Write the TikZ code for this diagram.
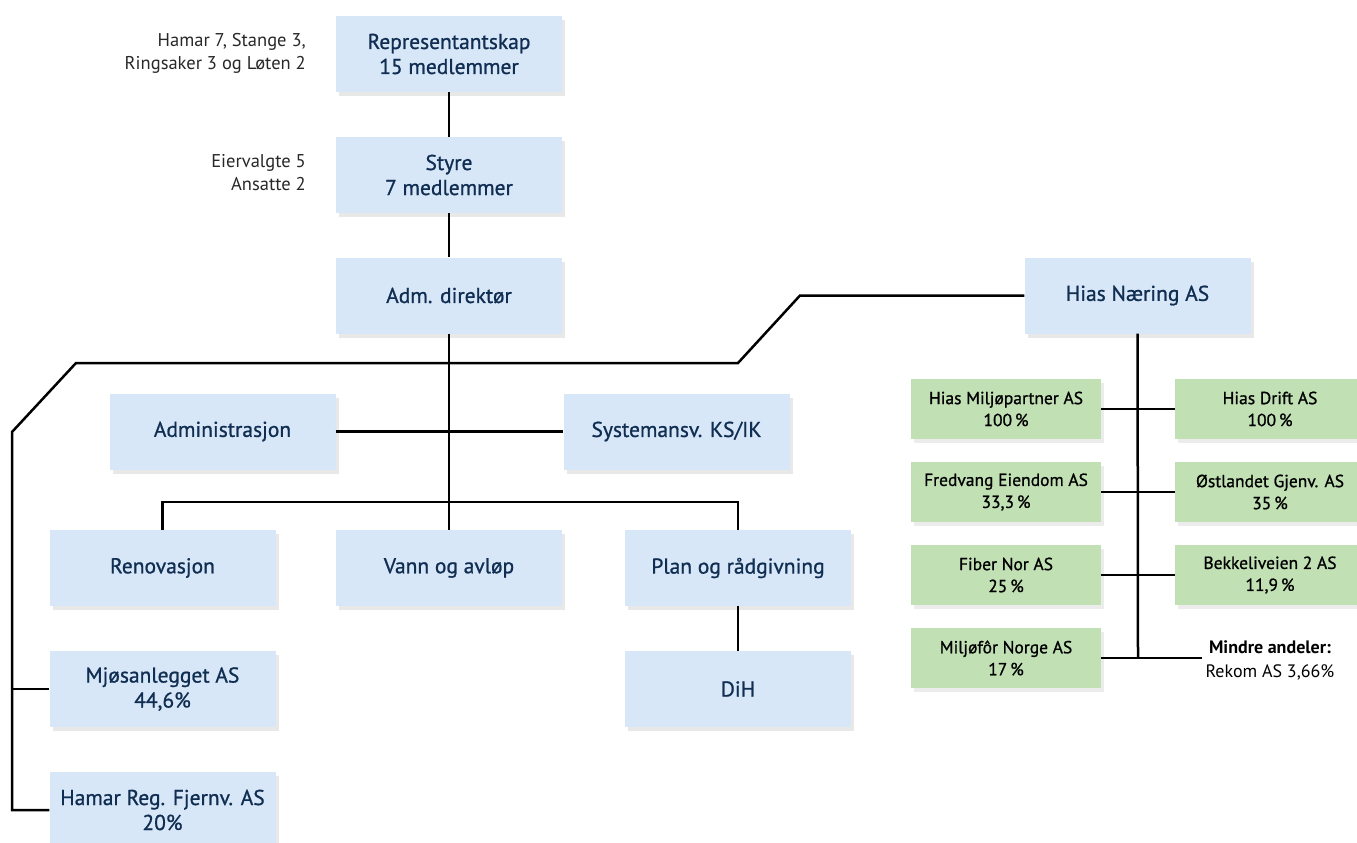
\documentclass[tikz,border=0pt]{standalone}
\usepackage{fontspec}
\setmainfont{PT Sans}
\newfontfamily\boxfont[RawFeature={embolden=0.9}]{PT Sans}
\usetikzlibrary{positioning, shadows}

\definecolor{boxblue}{RGB}{215,231,247}
\definecolor{boxgreen}{RGB}{193,224,180}
\definecolor{navy}{RGB}{16,45,82}
\definecolor{greytext}{RGB}{40,40,40}

\tikzset{
	unit/.style={fill=boxblue, text=navy, minimum width=226pt, minimum height=76pt,
		align=center, inner sep=0pt, font=\boxfont\fontsize{21.5}{25}\selectfont,
		drop shadow={opacity=0.18, shadow xshift=3pt, shadow yshift=-4pt}},
	company/.style={fill=boxgreen, text=black, minimum width=190pt, minimum height=60pt,
		align=center, inner sep=0pt, font=\boxfont\fontsize{17.5}{22}\selectfont,
		drop shadow={opacity=0.15, shadow xshift=3pt, shadow yshift=-4pt}},
	note/.style={text=greytext, align=right, anchor=east, inner sep=0pt,
		font=\fontsize{18.5}{23}\selectfont},
	link/.style={line width=2.5pt, black}
}

\begin{document}
\begin{tikzpicture}[x=1pt, y=-1pt]
	\useasboundingbox (0,0) rectangle (1357,843);
	
	% main line
	\node [unit] (rep) at (449,54) {Representantskap\\15 medlemmer};
	\node [unit] (styre) at (449,175) {Styre\\7 medlemmer};
	\node [unit] (adm) at (449,295.5) {Adm. direktør};
	\node [note] (repnote) at (306,53) {Hamar 7, Stange 3,\\Ringsaker 3 og Løten 2};
	\node [note] (styrenote) at (306,173) {Eiervalgte 5\\Ansatte 2};
	
	\node [unit] (admin) at (222.5,431.5) {Administrasjon};
	\node [unit] (system) at (676.5,431.5) {Systemansv. KS/IK};
	
	\node [unit] (renov) at (162.5,568) {Renovasjon};
	\node [unit] (vann) at (449,568) {Vann og avløp};
	\node [unit] (plan) at (738,568) {Plan og rådgivning};
	\node [unit] (dih) at (738,689) {DiH};
	
	\node [unit] (mjos) at (162.5,689) {Mjøsanlegget AS\\44,6\%};
	\node [unit] (hamar) at (162.5,810) {Hamar Reg. Fjernv. AS\\20\%};
	
	\node [unit] (naering) at (1137.5,295.5) {Hias Næring AS};
	
	\coordinate (B) at (449,502);
	\coordinate (K1) at (800,295.5);
	\coordinate (K2) at (738,363);
	\coordinate (K3) at (76,363);
	\coordinate (K4) at (12,432);
	\coordinate (K5) at (12,689);
	\coordinate (K6) at (12,810);
	
	\draw [link] (rep) -- (styre);
	\draw [link] (styre) -- (adm);
	\draw [link] (adm) -- (vann);
	\draw [link] (admin) -- (system);
	\draw [link] (renov) -- (renov |- B) -| (plan);
	\draw [link] (plan) -- (dih);
	\draw [link] (naering) -- (K1) -- (K2) -- (K3) -- (K4) -- (K6) -- (hamar);
	\draw [link] (K5) -- (mjos);
	
	% Hias Naering subsidiaries
	\coordinate (N) at (1138,658);
	\draw [link] (naering) -- (N);
	\foreach \l/\r [count=\xi] in {{Hias Miljøpartner AS\\100\,\%}/{Hias Drift AS\\100\,\%},
		{Fredvang Eiendom AS\\33,3\,\%}/{Østlandet Gjenv. AS\\35\,\%},
		{Fiber Nor AS\\25\,\%}/{Bekkeliveien 2 AS\\11,9\,\%}}{
		\node [company] (L\xi) at (1006,326+83*\xi) {\l};
		\node [company] (R\xi) at (1270,326+83*\xi) {\r};
		\draw [link] (L\xi) -- (R\xi);}
	\node [company] (L4) at (1006,658) {Miljøfôr Norge AS\\17\,\%};
	\node [align=center, font=\fontsize{18}{24}\selectfont] (andeler) at (1270,660)
		{\textbf{Mindre andeler:}\\Rekom AS 3,66\%};
	\draw [link] (L4) -- (L4 -| andeler.west);
\end{tikzpicture}
\end{document}
